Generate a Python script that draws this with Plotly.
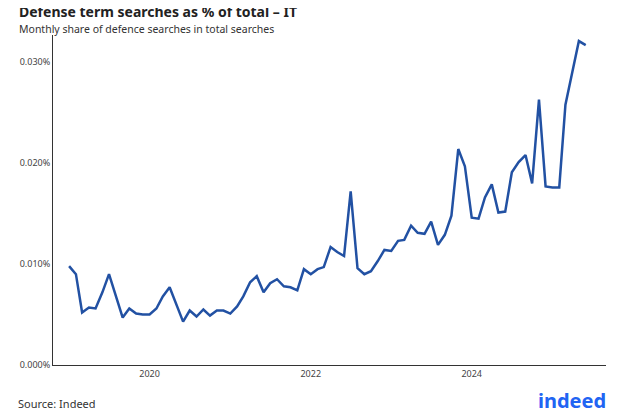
import plotly.graph_objects as go
import pandas as pd

dates = pd.date_range("2019-01-01", periods=78, freq="MS")
share = [0.0098,0.0090,0.0052,0.0057,0.0056,0.0072,0.0090,0.0068,0.0047,0.0056,0.0051,0.0050,
         0.0050,0.0056,0.0068,0.0077,0.0060,0.0043,0.0054,0.0048,0.0055,0.0049,0.0054,0.0054,
         0.0051,0.0058,0.0068,0.0082,0.0088,0.0072,0.0081,0.0085,0.0078,0.0077,0.0074,0.0095,
         0.0090,0.0095,0.0097,0.0117,0.0112,0.0108,0.0172,0.0096,0.0090,0.0093,0.0103,0.0114,
         0.0113,0.0123,0.0124,0.0138,0.0131,0.0130,0.0142,0.0119,0.0129,0.0148,0.0214,0.0197,
         0.0146,0.0145,0.0166,0.0179,0.0151,0.0152,0.0191,0.0201,0.0208,0.0180,0.0263,0.0177,
         0.0176,0.0176,0.0258,0.0289,0.0321,0.0317]
share_pct = [v / 100 for v in share]

fig = go.Figure(go.Scatter(x=dates, y=share_pct, mode="lines",
                           line=dict(color="#2251A3", width=2.5)))
fig.update_layout(
    width=624, height=416, plot_bgcolor="white", paper_bgcolor="white",
    margin=dict(l=28, r=26, t=27, b=59),
    font=dict(family="Noto Sans", color="#333"),
    showlegend=False,
    annotations=[
        dict(text="<b>Defense term searches as % of total – IT</b>", x=0, y=1.0, xref="paper", yref="paper",
             xanchor="left", yanchor="top", showarrow=False, font=dict(size=14, color="#222"), xshift=-36, yshift=35),
        dict(text="Monthly share of defence searches in total searches", x=0, y=1.0, xref="paper", yref="paper",
             xanchor="left", yanchor="top", showarrow=False, font=dict(size=10.5, color="#333"), xshift=-36, yshift=15),
        dict(text="Source: Indeed", x=0, y=0, xref="paper", yref="paper", xanchor="left", yanchor="top",
             showarrow=False, font=dict(size=11, color="#333"), xshift=-37, yshift=-29),
        dict(text="<b>indeed</b>", x=1, y=0, xref="paper", yref="paper", xanchor="right", yanchor="top",
             showarrow=False, font=dict(size=20, color="#2164F3"), xshift=2, yshift=-20),
    ],
)
fig.update_xaxes(showgrid=False, showline=True, linecolor="#333", linewidth=1,
                 tickvals=pd.to_datetime(["2020-01-01", "2022-01-01", "2024-01-01"]),
                 ticktext=["2020", "2022", "2024"], tickfont=dict(size=9, color="#444"),
                 range=[pd.Timestamp("2018-10-20"), pd.Timestamp("2025-09-01")], ticks="")
fig.update_yaxes(showgrid=False, showline=True, linecolor="#333", linewidth=1, zeroline=False,
                 tickvals=[0, 0.0001, 0.0002, 0.0003], tickformat=".3%", tickfont=dict(size=9, color="#444"),
                 range=[0, 0.000327], ticks="")
fig.write_html("out.html")
